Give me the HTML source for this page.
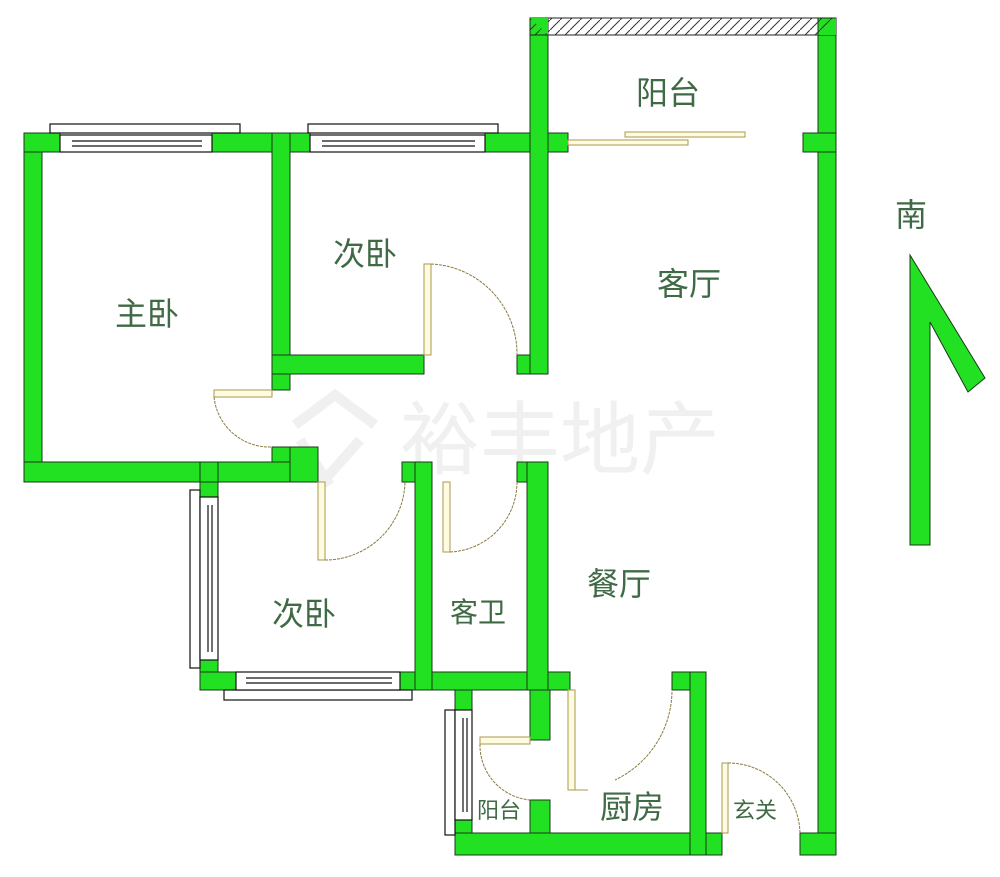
<!DOCTYPE html>
<html><head><meta charset="utf-8"><style>
html,body{margin:0;padding:0;background:#fff;}
svg{display:block;}
text{font-family:"Liberation Sans","Noto Sans CJK SC",sans-serif;fill:#3f6a45;}
</style></head><body>
<svg width="1000" height="877" viewBox="0 0 1000 877" xmlns="http://www.w3.org/2000/svg">
<defs>
<pattern id="h" width="10" height="10" patternUnits="userSpaceOnUse">
<path d="M0 10 L10 0" stroke="#333" stroke-width="1"/></pattern>
</defs>
<rect width="1000" height="877" fill="#fff"/>
<!-- watermark -->
<text x="400" y="468" font-size="80" style="fill:#f0f0f0">裕丰地产</text>
<path d="M295 425 L335 395 L375 425 M300 440 L330 485 M360 440 L320 485" stroke="#f0f0f0" stroke-width="10" fill="none"/>

<g fill="#22e022" stroke="#1a3a1a" stroke-width="1">
<!-- master -->
<rect x="24" y="133" width="18" height="349"/>
<rect x="24" y="133" width="36" height="19"/>
<rect x="212" y="133" width="98" height="19"/>
<rect x="272" y="133" width="18" height="257"/>
<rect x="272" y="447" width="18" height="35"/>
<rect x="24" y="462" width="294" height="20"/>
<rect x="290" y="447" width="28" height="35"/>
<!-- bed2 top -->
<rect x="485" y="133" width="83" height="19"/>
<rect x="272" y="355" width="152" height="19"/>
<rect x="517" y="355" width="31" height="19"/>
<rect x="530" y="18" width="18" height="356"/>
<!-- balcony -->
<rect x="818" y="18" width="18" height="837"/>
<rect x="803" y="133" width="33" height="19"/>
<!-- lower bedroom -->
<rect x="200" y="462" width="18" height="20"/>
<rect x="200" y="482" width="18" height="15"/>
<rect x="200" y="660" width="18" height="30"/>
<rect x="200" y="672" width="36" height="18"/>
<rect x="400" y="672" width="170" height="18"/>
<rect x="402" y="462" width="30" height="20"/>
<rect x="415" y="462" width="17" height="228"/>
<rect x="517" y="462" width="31" height="20"/>
<rect x="527" y="462" width="21" height="228"/>
<!-- small balcony / kitchen -->
<rect x="455" y="690" width="17" height="20"/>
<rect x="455" y="820" width="17" height="35"/>
<rect x="530" y="690" width="20" height="50"/>
<rect x="530" y="800" width="20" height="55"/>
<rect x="455" y="833" width="267" height="22"/>
<rect x="672" y="672" width="34" height="18"/>
<rect x="690" y="672" width="16" height="183"/>
<rect x="800" y="833" width="36" height="22"/>
<!-- arrow -->
<polygon points="910,255 985,378 968,392 930,322 930,545 910,545"/>
</g>
<!-- hatched top -->
<rect x="530" y="18" width="306" height="17" fill="url(#h)" stroke="#222"/>
<polygon points="530,18 548,35 548,18" fill="#22e022"/>
<polygon points="836,18 818,35 836,35" fill="#22e022"/>
<!-- windows -->
<g fill="#fff" stroke="#111" stroke-width="1.2">
<rect x="50" y="124" width="190" height="9"/>
<rect x="60" y="135" width="152" height="17"/>
<line x1="72" y1="141" x2="202" y2="141"/><line x1="72" y1="146" x2="202" y2="146"/>
<rect x="308" y="124" width="190" height="9"/>
<rect x="310" y="135" width="175" height="17"/>
<line x1="322" y1="141" x2="475" y2="141"/><line x1="322" y1="146" x2="475" y2="146"/>
<rect x="190" y="490" width="10" height="178"/>
<rect x="200" y="497" width="18" height="163"/>
<line x1="208" y1="505" x2="208" y2="652"/><line x1="212" y1="505" x2="212" y2="652"/>
<rect x="224" y="690" width="188" height="10"/>
<rect x="236" y="672" width="164" height="18"/>
<line x1="246" y1="678" x2="392" y2="678"/><line x1="246" y1="683" x2="392" y2="683"/>
<rect x="445" y="710" width="10" height="125"/>
<rect x="455" y="710" width="17" height="110"/>
<line x1="463" y1="718" x2="463" y2="812"/><line x1="467" y1="718" x2="467" y2="812"/>
</g>
<!-- doors -->
<g fill="#fffbe0" stroke="#a89a50" stroke-width="1">
<rect x="424" y="264" width="7" height="91"/>
<rect x="214" y="390" width="58" height="7"/>
<rect x="318" y="482" width="7" height="78"/>
<rect x="443" y="482" width="7" height="70"/>
<rect x="568" y="690" width="7" height="100"/>
<rect x="480" y="737" width="50" height="7"/>
<rect x="722" y="763" width="6" height="70"/>
<rect x="568" y="140" width="120" height="5"/>
<rect x="625" y="132" width="120" height="5"/>
</g>
<g fill="none" stroke="#8a7a40" stroke-width="1" stroke-dasharray="3,1">
<path d="M431 264 A 90 90 0 0 1 517 355"/>
<path d="M214 397 A 56 56 0 0 0 272 447"/>
<path d="M325 560 A 80 80 0 0 0 405 482"/>
<path d="M450 552 A 70 70 0 0 0 517 482"/>
<path d="M672 692 A 100 100 0 0 1 615 780"/>
<path d="M480 744 A 55 55 0 0 0 530 800"/>
<path d="M728 763 A 72 72 0 0 1 800 833"/>
</g>
<path d="M575 790 L588 790" stroke="#a89a50" fill="none"/>
<!-- labels -->
<text x="636" y="104" font-size="32">阳台</text>
<text x="657" y="295" font-size="32">客厅</text>
<text x="333" y="265" font-size="32">次卧</text>
<text x="115" y="325" font-size="32">主卧</text>
<text x="272" y="625" font-size="32">次卧</text>
<text x="450" y="622" font-size="28">客卫</text>
<text x="587" y="595" font-size="32">餐厅</text>
<text x="600" y="818" font-size="32">厨房</text>
<text x="477" y="818" font-size="22">阳台</text>
<text x="733" y="818" font-size="22">玄关</text>
<text x="895" y="226" font-size="32">南</text>
</svg>
</body></html>
